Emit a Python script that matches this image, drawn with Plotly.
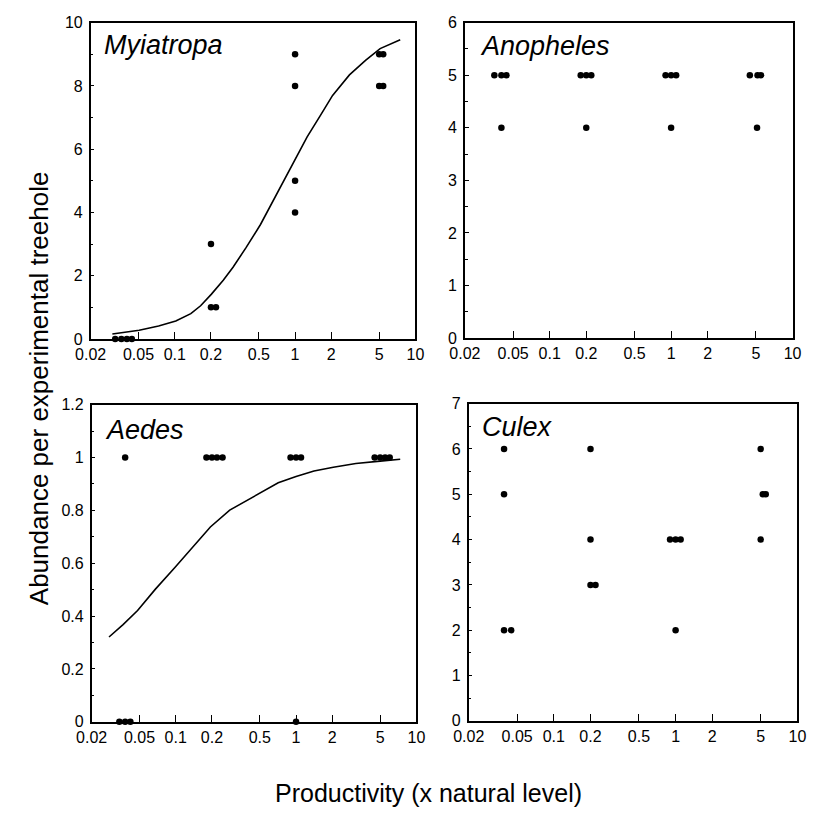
import plotly.graph_objects as go

# ---------------- data ----------------
myia_x = [0.032, 0.036, 0.040, 0.044, 0.2, 0.2, 0.22, 1.0, 1.0, 1.0, 1.0, 5.0, 5.4, 5.0, 5.4]
myia_y = [0, 0, 0, 0, 3, 1, 1, 9, 8, 5, 4, 9, 9, 8, 8]
myia_fit_x = [0.0303, 0.0506, 0.0734, 0.102, 0.136, 0.164, 0.201, 0.253, 0.305, 0.39, 0.516, 0.64,
              0.82, 1.02, 1.26, 1.62, 2.05, 2.83, 3.85, 5.09, 7.48]
myia_fit_y = [0.155, 0.278, 0.412, 0.567, 0.80, 1.05, 1.41, 1.86, 2.27, 2.88, 3.62, 4.3,
              5.05, 5.77, 6.39, 7.06, 7.7, 8.35, 8.81, 9.18, 9.46]

anoph_x = [0.035, 0.040, 0.044, 0.040, 0.18, 0.20, 0.22, 0.20, 0.9, 1.0, 1.1, 1.0, 4.45, 5.15, 5.5, 5.1]
anoph_y = [5, 5, 5, 4, 5, 5, 5, 4, 5, 5, 5, 4, 5, 5, 5, 4]

aedes_x = [0.038, 0.18, 0.20, 0.22, 0.245, 0.9, 1.0, 1.1, 4.5, 5.0, 5.5, 6.0, 0.034, 0.038, 0.042, 1.0]
aedes_y = [1, 1, 1, 1, 1, 1, 1, 1, 1, 1, 1, 1, 0, 0, 0, 0]
aedes_fit_x = [0.0279, 0.0365, 0.0482, 0.0678, 0.098, 0.142, 0.194, 0.281, 0.485, 0.711, 1.0,
               1.41, 2.04, 3.14, 5.0, 7.34]
aedes_fit_y = [0.321, 0.368, 0.421, 0.502, 0.583, 0.668, 0.737, 0.801, 0.862, 0.904, 0.928,
               0.949, 0.963, 0.977, 0.986, 0.993]

culex_x = [0.039, 0.039, 0.039, 0.0446, 0.2, 0.2, 0.2, 0.22, 0.9, 1.0, 1.1, 1.0, 5.0, 5.2, 5.5, 5.0]
culex_y = [6, 5, 2, 2, 6, 4, 3, 3, 4, 4, 4, 2, 6, 5, 5, 4]

x_tickvals = [0.02, 0.05, 0.1, 0.2, 0.5, 1, 2, 5, 10]
x_ticktext = ["0.02", "0.05", "0.1", "0.2", "0.5", "1", "2", "5", "10"]

panel_names = ["Myiatropa", "Anopheles", "Aedes", "Culex"]

# ---------------- layout helpers ----------------
W = H = 818
# pixel boxes: left, right, top, bottom
boxes = [(77, 412, 15, 338), (463, 801, 15, 337), (78, 413, 405, 729), (467, 806, 404, 728)]
# panel-title positions (left x, vertical centre y) in pixels
title_pos = [(89, 38), (477, 39), (90, 431), (479, 428)]
y_setups = [
    dict(range=[0, 10], dtick=2, minor=1),
    dict(range=[0, 6], dtick=1, minor=0.5),
    dict(range=[0, 1.2], dtick=0.2, minor=0.1),
    dict(range=[0, 7], dtick=1, minor=0.5),
]

FONT = "Liberation Sans, Arial, sans-serif"

fig = go.Figure()

datasets = [
    (myia_x, myia_y, myia_fit_x, myia_fit_y),
    (anoph_x, anoph_y, None, None),
    (aedes_x, aedes_y, aedes_fit_x, aedes_fit_y),
    (culex_x, culex_y, None, None),
]

layout_axes = {}
for i, ((px, py, fx, fy), (l, r, t, b), ys, name, (tx, ty)) in enumerate(
        zip(datasets, boxes, y_setups, panel_names, title_pos)):
    n = "" if i == 0 else str(i + 1)
    xa, ya = "x" + n, "y" + n
    if fx is not None:
        fig.add_trace(go.Scatter(x=fx, y=fy, mode="lines", line=dict(color="black", width=1.6),
                                 xaxis=xa, yaxis=ya, showlegend=False, hoverinfo="skip"))
    fig.add_trace(go.Scatter(x=px, y=py, mode="markers", marker=dict(color="black", size=6.5),
                             xaxis=xa, yaxis=ya, showlegend=False, cliponaxis=False))
    layout_axes["xaxis" + n] = dict(
        type="log", range=[-1.69897, 1.0], domain=[l / W, r / W], anchor=ya,
        tickvals=x_tickvals, ticktext=x_ticktext, ticks="inside", ticklen=7, tickwidth=1.2,
        tickcolor="black", showline=True, linecolor="black", linewidth=1.5, mirror=True,
        showgrid=False, zeroline=False, tickfont=dict(family=FONT, size=16, color="black"),
        ticklabelstandoff=0,
    )
    layout_axes["yaxis" + n] = dict(
        range=ys["range"], dtick=ys["dtick"], domain=[(H - b) / H, (H - t) / H], anchor=xa,
        ticks="inside", ticklen=4, tickwidth=1.2, tickcolor="black",
        minor=dict(dtick=ys["minor"], ticks="inside", ticklen=3, tickcolor="black", showgrid=False),
        showline=True, linecolor="black", linewidth=1.5, mirror=True,
        showgrid=False, zeroline=False, tickfont=dict(family=FONT, size=16, color="black"),
        ticklabelstandoff=3,
    )
    fig.add_annotation(text="<i>" + name + "</i>", xref="paper", yref="paper",
                       x=tx / W, y=1 - ty / H, xanchor="left", yanchor="middle",
                       showarrow=False, font=dict(family=FONT, size=27, color="black"))

fig.add_annotation(text="Abundance per experimental treehole", xref="paper", yref="paper",
                   x=24 / W, y=1 - 388 / H, textangle=-90, showarrow=False,
                   xanchor="center", yanchor="middle", font=dict(family=FONT, size=26, color="black"))
fig.add_annotation(text="Productivity (x natural level)", xref="paper", yref="paper",
                   x=426 / W, y=1 - 802 / H, showarrow=False,
                   xanchor="center", yanchor="middle", font=dict(family=FONT, size=25, color="black"))

fig.update_layout(width=W, height=H, margin=dict(l=0, r=0, t=0, b=0),
                  paper_bgcolor="white", plot_bgcolor="white", **layout_axes)

fig.write_html("out.html")
